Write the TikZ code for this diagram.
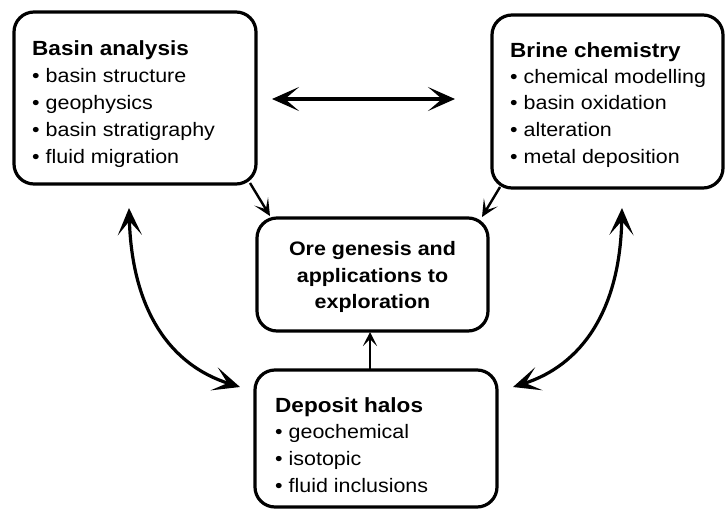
\documentclass[tikz,border=0pt]{standalone}
\usepackage{fontspec}
\setmainfont[FakeStretch=1.1]{Liberation Sans}
\usetikzlibrary{arrows.meta}
\tikzset{
  box/.style={draw, line width=3.2pt, rounded corners=20pt, inner sep=0pt},
  ttl/.style={anchor=base west, inner sep=0pt, font=\fontsize{20.5}{24}\selectfont\bfseries},
  itm/.style={anchor=base west, inner sep=0pt, font=\fontsize{19.5}{24}\selectfont},
  oretxt/.style={anchor=base, inner sep=0pt, font=\fontsize{19.5}{24}\selectfont\bfseries},
  bigarrow/.style={line width=3.2pt, {Stealth[length=27pt,width=24pt,inset=14pt]}-{Stealth[length=27pt,width=24pt,inset=14pt]}},
  smallarrow/.style={line width=2.4pt, -{Stealth[length=17pt,width=16pt,inset=9pt]}},
  thinarrow/.style={line width=1.8pt, -{Stealth[length=14pt,width=14pt,inset=7pt]}}
}
\begin{document}
\begin{tikzpicture}[x=1pt,y=-1pt]
\useasboundingbox (0,0) rectangle (726,512);
% boxes
\node[box, minimum width=242pt, minimum height=172pt] (basin) at (135,98) {};
\node[box, minimum width=231pt, minimum height=173pt] (brine) at (607.5,101.5) {};
\node[box, minimum width=231pt, minimum height=113pt] (ore) at (372.5,274.5) {};
\node[box, minimum width=242pt, minimum height=137pt] (deposit) at (376,438.5) {};
% Basin analysis
\node[ttl] (b0) at (32,55) {Basin analysis};
\node[itm] (b1) at (32,82) {• basin structure};
\node[itm] (b2) at (32,109) {• geophysics};
\node[itm] (b3) at (32,136) {• basin stratigraphy};
\node[itm] (b4) at (32,163) {• fluid migration};
% Brine chemistry
\node[ttl] (c0) at (510,57) {Brine chemistry};
\node[itm] (c1) at (510,83) {• chemical modelling};
\node[itm] (c2) at (510,109) {• basin oxidation};
\node[itm] (c3) at (510,136) {• alteration};
\node[itm] (c4) at (510,163) {• metal deposition};
% Ore genesis
\node[oretxt] (o1) at (372.5,255) {Ore genesis and};
\node[oretxt] (o2) at (372.5,282) {applications to};
\node[oretxt] (o3) at (372.5,308) {exploration};
% Deposit halos
\node[ttl] (d0) at (275,412) {Deposit halos};
\node[itm] (d1) at (275,438) {• geochemical};
\node[itm] (d2) at (275,465) {• isotopic};
\node[itm] (d3) at (275,492) {• fluid inclusions};
% connector end points
\coordinate (hl) at (272,99);
\coordinate (hr) at (455,99);
\coordinate (bs) at (250,183);
\coordinate (bt) at (270,216);
\coordinate (cs) at (500,187);
\coordinate (ct) at (482,217);
\coordinate (ds) at (370,370);
\coordinate (dt) at (370,332);
\coordinate (lt) at (129,208);
\coordinate (lb) at (240,387);
\coordinate (rt) at (622,208);
\coordinate (rb) at (513,387);
% connectors
\draw[bigarrow] (hl) -- (hr);
\draw[smallarrow] (bs) -- (bt);
\draw[smallarrow] (cs) -- (ct);
\draw[thinarrow] (ds) -- (dt);
\draw[bigarrow] (lt) .. controls (132,310) and (170,365) .. (lb);
\draw[bigarrow] (rt) .. controls (620,310) and (582,365) .. (rb);
\end{tikzpicture}
\end{document}
